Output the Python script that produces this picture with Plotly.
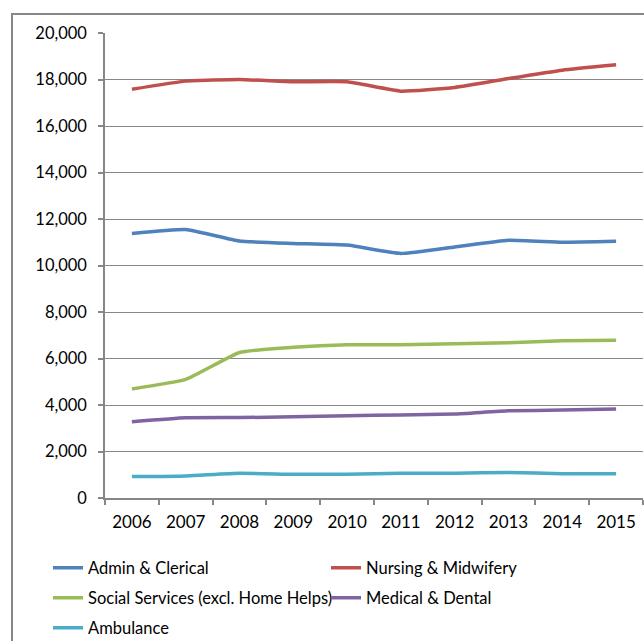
import plotly.graph_objects as go

years = ["2006", "2007", "2008", "2009", "2010", "2011", "2012", "2013", "2014", "2015"]
admin_clerical = [11380, 11550, 11050, 10950, 10880, 10520, 10800, 11090, 11000, 11040]
nursing_midwifery = [17580, 17930, 18000, 17900, 17900, 17500, 17660, 18040, 18400, 18630]
social_services = [4690, 5100, 6260, 6480, 6590, 6590, 6630, 6680, 6760, 6790]
medical_dental = [3280, 3450, 3460, 3490, 3540, 3570, 3610, 3750, 3780, 3830]
ambulance = [920, 950, 1060, 1020, 1020, 1060, 1060, 1100, 1040, 1040]

series = [
    ("Admin & Clerical", admin_clerical, "#4F81BD", "legend"),
    ("Nursing & Midwifery", nursing_midwifery, "#C0504D", "legend"),
    ("Social Services (excl. Home Helps)", social_services, "#9BBB59", "legend2"),
    ("Medical & Dental", medical_dental, "#8064A2", "legend2"),
    ("Ambulance", ambulance, "#4BACC6", "legend3"),
]

FONT = "Lato"
fig = go.Figure()
for name, vals, color, leg in series:
    fig.add_trace(go.Scatter(
        x=years, y=vals, name=name, mode="lines",
        line=dict(color=color, width=3.5, shape="spline", smoothing=0.4),
        legend=leg,
    ))

W, H = 644, 641
ml, mr, mt, mb = 105, 1, 33, 143
pw = W - ml - mr
ph = H - mt - mb

def px(x):
    return (x - ml) / pw

def py(y):
    return 1 - (y - mt) / ph

legend_common = dict(
    orientation="h", xanchor="left", yanchor="middle",
    font=dict(family=FONT, size=16.5, color="#000000"),
    entrywidth=233, entrywidthmode="pixels",
    bgcolor="rgba(0,0,0,0)", itemwidth=30, tracegroupgap=0,
)

fig.update_layout(
    width=W, height=H,
    margin=dict(l=ml, r=mr, t=mt, b=mb, autoexpand=False),
    paper_bgcolor="white", plot_bgcolor="white",
    font=dict(family=FONT, size=16.5, color="#000000"),
    showlegend=True,
    legend=dict(x=px(48), y=py(568), **legend_common),
    legend2=dict(x=px(48), y=py(598), **legend_common),
    legend3=dict(x=px(48), y=py(628), **legend_common),
    xaxis=dict(
        type="category", tickson="boundaries", ticks="outside", ticklen=5,
        tickcolor="#878787", tickwidth=1.5, showline=True, linecolor="#878787",
        linewidth=1.5, showgrid=False, tickfont=dict(family=FONT, size=17),
        range=[-0.5, 9.5], ticklabelstandoff=8,
    ),
    yaxis=dict(
        range=[0, 20000], dtick=2000, tickformat=",", ticks="outside", ticklen=5,
        tickcolor="#878787", tickwidth=1.5, showline=True, linecolor="#878787",
        linewidth=1.5, gridcolor="#878787", gridwidth=1.2, zeroline=False,
        tickfont=dict(family=FONT, size=16.5), ticklabelstandoff=8,
    ),
    shapes=[dict(
        type="rect", xref="paper", yref="paper",
        x0=px(12), x1=px(660), y0=py(660), y1=py(14),
        line=dict(color="#878787", width=2), fillcolor="rgba(0,0,0,0)", layer="below",
    )],
)

fig.write_html(
    "out.html",
    config={"displayModeBar": False},
    post_script="document.body.style.margin='0';document.body.style.overflow='hidden';",
)
